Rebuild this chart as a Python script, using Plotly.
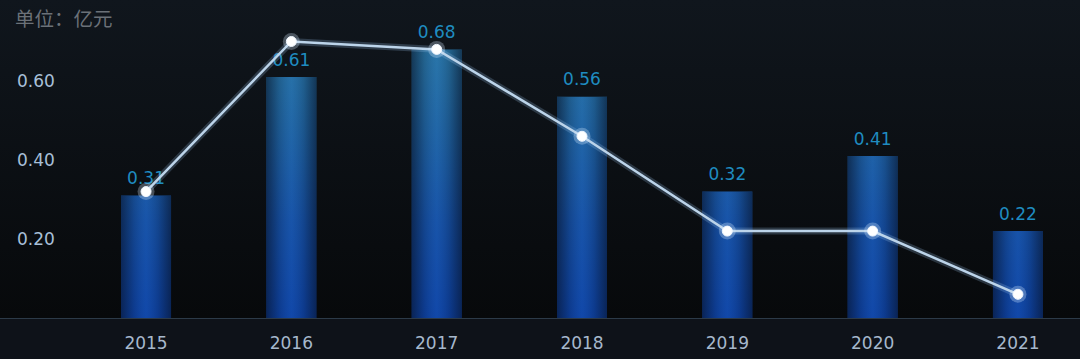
import plotly.graph_objects as go

years = ["2015", "2016", "2017", "2018", "2019", "2020", "2021"]
bar_values = [0.31, 0.61, 0.68, 0.56, 0.32, 0.41, 0.22]
line_values = [0.32, 0.70, 0.68, 0.46, 0.22, 0.22, 0.06]
y_ticks = [0.2, 0.4, 0.6]
y_tick_text = ["0.20", "0.40", "0.60"]
unit_label = "单位：亿元"

BAR_W = 0.344
X_RANGE = [-1.005, 6.427]
Y_RANGE = [0, 0.805]
FONT = "DejaVu Sans"

xs = list(range(len(years)))
fig = go.Figure()

# plot background gradient
fig.add_trace(go.Scatter(
    x=[X_RANGE[0], X_RANGE[1], X_RANGE[1], X_RANGE[0], X_RANGE[0]],
    y=[Y_RANGE[0], Y_RANGE[0], Y_RANGE[1], Y_RANGE[1], Y_RANGE[0]],
    mode="none", fill="toself",
    fillgradient=dict(type="vertical", start=0, stop=Y_RANGE[1],
                      colorscale=[[0, "#07090b"], [1, "#10161d"]]),
    hoverinfo="skip", showlegend=False))

# bars: vertical gradient body
bx, by = [], []
for x, v in zip(xs, bar_values):
    l, r = x - BAR_W / 2, x + BAR_W / 2
    bx += [l, r, r, l, l, None]
    by += [0, 0, v, v, 0, None]
fig.add_trace(go.Scatter(
    x=bx, y=by, mode="none", fill="toself",
    fillgradient=dict(type="vertical", start=0, stop=0.70,
                      colorscale=[[0, "#0e44a8"], [0.35, "#1652a8"], [0.7, "#2168a6"], [1, "#2b7aa8"]]),
    hoverinfo="skip", showlegend=False))

# bars: horizontal shading (dark edges)
for x, v in zip(xs, bar_values):
    l, r = x - BAR_W / 2, x + BAR_W / 2
    fig.add_trace(go.Scatter(
        x=[l, r, r, l, l], y=[0, 0, v, v, 0], mode="none", fill="toself",
        fillgradient=dict(type="horizontal", start=l, stop=r,
                          colorscale=[[0, "rgba(6,14,32,0.6)"], [0.25, "rgba(6,14,32,0.2)"],
                                      [0.5, "rgba(40,100,180,0.12)"], [0.75, "rgba(6,14,32,0.2)"],
                                      [1, "rgba(6,14,32,0.6)"]]),
        hoverinfo="skip", showlegend=False))

# bar value labels
fig.add_trace(go.Scatter(
    x=xs, y=bar_values, mode="markers+text", text=[f"{v:.2f}" for v in bar_values],
    textposition="top center",
    marker=dict(size=10, color="rgba(0,0,0,0)"),
    textfont=dict(family=FONT, size=17, color="#1f8cc0"),
    hoverinfo="skip", showlegend=False))

# line glow
fig.add_trace(go.Scatter(
    x=xs, y=line_values, mode="lines",
    line=dict(color="rgba(160,200,240,0.22)", width=7),
    hoverinfo="skip", showlegend=False))
fig.add_trace(go.Scatter(
    x=xs, y=line_values, mode="lines+markers",
    line=dict(color="#bcd4ea", width=2.5),
    marker=dict(size=17, color="rgba(215,235,255,0.3)", line=dict(width=0)),
    hoverinfo="skip", showlegend=False))
fig.add_trace(go.Scatter(
    x=xs, y=line_values, mode="markers",
    marker=dict(size=10, color="#ffffff", line=dict(color="#eef6ff", width=1)),
    showlegend=False))

fig.add_annotation(
    text=unit_label, xref="paper", yref="paper", x=0, y=1,
    xanchor="left", yanchor="top", xshift=13, yshift=-1, showarrow=False,
    font=dict(family="Noto Sans CJK SC", size=19.5, color="#6b7178"))

fig.update_layout(
    width=1080, height=359,
    margin=dict(l=0, r=0, t=0, b=41),
    paper_bgcolor="#0e1219",
    plot_bgcolor="#0a0d11",
    xaxis=dict(range=X_RANGE, tickvals=xs, ticktext=years, showgrid=False,
               zeroline=False, showline=False, ticks="", ticklabelstandoff=13,
               tickfont=dict(family=FONT, size=17, color="#a6b8cc")),
    yaxis=dict(range=Y_RANGE, tickvals=y_ticks, ticktext=y_tick_text,
               showgrid=True, gridcolor="rgba(70,65,50,0.3)", gridwidth=1,
               zeroline=True, zerolinecolor="#2c3a48", zerolinewidth=2,
               ticks="", ticklabelposition="inside", ticklabelstandoff=14,
               tickfont=dict(family=FONT, size=17, color="#a8c0d8"),
               layer="above traces"),
    showlegend=False,
)

fig.write_html(
    "out.html",
    config={"displayModeBar": False},
    post_script="document.body.style.margin='0';document.body.style.padding='0';"
                "document.body.style.background='#0e1219';",
)
